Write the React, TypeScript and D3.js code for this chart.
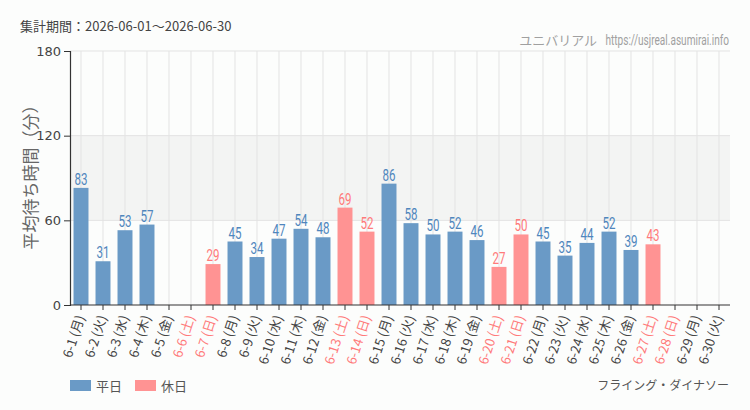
import { useEffect, useRef } from "react";
import * as d3 from "d3";

// 6月の日別平均待ち時間
const days = d3.range(1, 31).map((d) => `6-${d}`);
const weekdays = ["月", "火", "水", "木", "金", "土", "日"];
const waits: (number | null)[] = [
    83, 31, 53, 57, null, null, 29, 45, 34, 47, 54, 48, 69, 52, 86,
    58, 50, 52, 46, 27, 50, 45, 35, 44, 52, 39, 43, null, null, null,
];
const holidays = ["6-6", "6-7", "6-13", "6-14", "6-20", "6-21", "6-27", "6-28"];
const yTicks = [0, 60, 120, 180];

const JP = "'Noto Sans CJK JP', 'Noto Sans', sans-serif";
const NUM = "'Roboto', 'DejaVu Sans', sans-serif";
const BLUE = "#6a9ac6";
const PINK = "#ff9393";
const BLUE_TEXT = "#4f86bd";
const PINK_TEXT = "#ff7a7a";

const App = () => {
    const chartRef = useRef<SVGSVGElement>(null);

    useEffect(() => {
        const svg = d3.select(chartRef.current);
        svg.selectAll("*").remove();

        const width = 750;
        const height = 410;
        const margin = { top: 51, right: 20, bottom: 105, left: 70 };

        svg.append("rect").attr("width", width).attr("height", height).attr("fill", "#fcfdfc");

        const data = days.map((d, i) => ({
            label: d,
            wd: weekdays[i % 7],
            value: waits[i],
            holiday: holidays.includes(d),
        }));

        const x = d3
            .scaleBand()
            .domain(days)
            .range([margin.left, width - margin.right])
            .paddingInner(0.32)
            .paddingOuter(0.16);

        const y = d3
            .scaleLinear()
            .domain([0, 180])
            .range([height - margin.bottom, margin.top]);

        const cx = (d: string) => (x(d) as number) + x.bandwidth() / 2;

        // shaded band between 60 and 120
        svg
            .append("rect")
            .attr("x", margin.left)
            .attr("y", y(120))
            .attr("width", width - margin.right - margin.left)
            .attr("height", y(60) - y(120))
            .attr("fill", "#f3f4f3");

        // grid
        const grid = svg.append("g").attr("stroke", "#e3e3e3").attr("stroke-width", 1);
        grid
            .selectAll("line.v")
            .data(days)
            .join("line")
            .attr("x1", (d) => cx(d))
            .attr("x2", (d) => cx(d))
            .attr("y1", y(180))
            .attr("y2", y(0));
        grid
            .selectAll("line.h")
            .data(yTicks.slice(1))
            .join("line")
            .attr("x1", margin.left)
            .attr("x2", width - margin.right)
            .attr("y1", (d) => y(d))
            .attr("y2", (d) => y(d));

        // bars
        const bars = data.filter((d) => d.value !== null);
        svg
            .append("g")
            .selectAll("rect")
            .data(bars)
            .join("rect")
            .attr("x", (d) => x(d.label) as number)
            .attr("y", (d) => y(d.value as number))
            .attr("width", x.bandwidth())
            .attr("height", (d) => y(0) - y(d.value as number))
            .attr("fill", (d) => (d.holiday ? PINK : BLUE));

        // value labels, squeezed horizontally
        svg
            .append("g")
            .selectAll("text")
            .data(bars)
            .join("text")
            .attr("transform", (d) => `translate(${cx(d.label)},${y(d.value as number) - 3}) scale(0.68,1)`)
            .attr("text-anchor", "middle")
            .attr("font-family", NUM)
            .attr("font-size", 17)
            .attr("fill", (d) => (d.holiday ? PINK_TEXT : BLUE_TEXT))
            .text((d) => d.value as number);

        // y axis
        const yAxis = svg
            .append("g")
            .attr("transform", `translate(${margin.left},0)`)
            .call(d3.axisLeft(y).tickValues(yTicks).tickSize(6).tickPadding(3));
        yAxis.select(".domain").attr("stroke", "#333").attr("stroke-width", 1.2);
        yAxis.selectAll(".tick line").attr("stroke", "#333");
        yAxis
            .selectAll("text")
            .attr("font-family", "'DejaVu Sans', sans-serif")
            .attr("font-size", 13)
            .attr("fill", "#444");

        // x axis
        const xAxis = svg
            .append("g")
            .attr("transform", `translate(0,${y(0)})`)
            .call(d3.axisBottom(x).tickSize(5).tickFormat(() => ""));
        xAxis.select(".domain").attr("stroke", "#333").attr("stroke-width", 1.2).attr("d", `M${margin.left},0H${width - margin.right}`);
        xAxis.selectAll(".tick line").attr("stroke", "#333");

        svg
            .append("g")
            .selectAll("text")
            .data(data)
            .join("text")
            .attr("transform", (d) => `translate(${cx(d.label) + 4},${y(0) + 12}) rotate(-72)`)
            .attr("text-anchor", "end")
            .attr("font-family", JP)
            .attr("font-size", 13)
            .attr("fill", (d) => (d.holiday ? PINK_TEXT : "#444"))
            .text((d) => `${d.label} (${d.wd})`);

        // y axis title
        svg
            .append("text")
            .attr("transform", `translate(37,${(y(0) + y(180)) / 2 - 5}) rotate(-90)`)
            .attr("text-anchor", "middle")
            .attr("font-family", JP)
            .attr("font-size", 17)
            .attr("fill", "#666")
            .text("平均待ち時間（分）");

        // header
        svg
            .append("text")
            .attr("x", 20)
            .attr("y", 31)
            .attr("font-family", JP)
            .attr("font-size", 13)
            .attr("fill", "#444")
            .text("集計期間：2026-06-01～2026-06-30");

        svg
            .append("text")
            .attr("x", 597)
            .attr("y", 45)
            .attr("text-anchor", "end")
            .attr("font-family", JP)
            .attr("font-size", 13)
            .attr("fill", "#a0a0a0")
            .text("ユニバリアル");
        svg
            .append("text")
            .attr("transform", `translate(${width - 21},45) scale(0.72,1)`)
            .attr("text-anchor", "end")
            .attr("font-family", NUM)
            .attr("font-size", 14)
            .attr("fill", "#a0a0a0")
            .text("https://usjreal.asumirai.info");

        // legend
        const legend = [
            { label: "平日", color: BLUE },
            { label: "休日", color: PINK },
        ];
        const lg = svg
            .append("g")
            .selectAll("g")
            .data(legend)
            .join("g")
            .attr("transform", (_, i) => `translate(${70 + i * 65},380)`);
        lg.append("rect").attr("width", 21).attr("height", 11).attr("fill", (d) => d.color);
        lg.append("text")
            .attr("x", 26)
            .attr("y", 11)
            .attr("font-family", JP)
            .attr("font-size", 13)
            .attr("fill", "#555")
            .text((d) => d.label);

        svg
            .append("text")
            .attr("x", width - 21)
            .attr("y", 390)
            .attr("text-anchor", "end")
            .attr("font-family", JP)
            .attr("font-size", 12)
            .attr("fill", "#555")
            .text("フライング・ダイナソー");
    }, []);

    return (
        <svg
            ref={chartRef}
            width={750}
            height={410}
            style={{ position: "absolute", left: 0, top: 0 }}
        ></svg>
    );
};

export default App;
